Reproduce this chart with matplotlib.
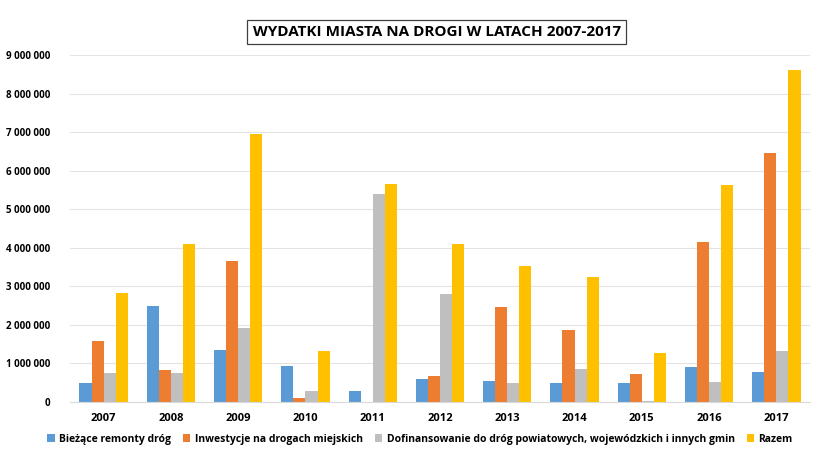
"""Wydatki miasta na drogi 2007-2017 - grouped bar chart."""

import matplotlib

matplotlib.use("Agg")
import matplotlib.pyplot as plt
import numpy as np
from matplotlib.ticker import FuncFormatter


YEARS = ["2007", "2008", "2009", "2010", "2011", "2012", "2013", "2014", "2015", "2016", "2017"]
SERIES_NAMES = [
    "Bieżące remonty dróg",
    "Inwestycje na drogach miejskich",
    "Dofinansowanie do dróg powiatowych, wojewódzkich i innych gmin",
    "Razem",
]
remonty = [490000, 2500000, 1360000, 940000, 280000, 600000, 550000, 500000, 500000, 920000, 790000]
inwestycje = [1590000, 820000, 3660000, 110000, 0, 680000, 2470000, 1880000, 720000, 4160000, 6470000]
dofinansowanie = [760000, 760000, 1910000, 280000, 5390000, 2790000, 480000, 860000, 30000, 530000, 1330000]
razem = [2840000, 4100000, 6960000, 1330000, 5660000, 4110000, 3540000, 3250000, 1270000, 5640000, 8620000]
COLORS = ["#5B9BD5", "#ED7D31", "#BFBFBF", "#FFC000"]

plt.rcParams["font.family"] = "Open Sans"

fig = plt.figure(figsize=(8.4, 4.54), dpi=100)
ax = fig.add_axes([70 / 840, 1 - 402 / 454, 740 / 840, 347 / 454])

x = np.arange(len(YEARS))
width = 0.18
for i, (values, name, color) in enumerate(zip([remonty, inwestycje, dofinansowanie, razem], SERIES_NAMES, COLORS)):
    ax.bar(x + (i - 1.5) * width, values, width, color=color, label=name, zorder=2)

ax.set_xlim(-0.5, len(YEARS) - 0.5)
ax.set_ylim(0, 9000000)
ax.set_yticks(np.arange(0, 9000001, 1000000))
ax.yaxis.set_major_formatter(FuncFormatter(lambda v, _: f"{int(v):,}".replace(",", " ")))
ax.set_xticks(x)
ax.set_xticklabels(YEARS, fontweight="bold", fontsize=8)
for lbl in ax.get_yticklabels():
    lbl.set_fontweight("bold")
    lbl.set_fontsize(7)
ax.tick_params(axis="both", length=0, pad=8)
ax.tick_params(axis="y", pad=14)
ax.grid(axis="y", color="#E3E3E3", linewidth=0.8, zorder=0)
for side in ["top", "right", "left"]:
    ax.spines[side].set_visible(False)
ax.spines["bottom"].set_color("#D9D9D9")

fig.text(0.52, 1 - 32 / 454, "WYDATKI MIASTA NA DROGI W LATACH 2007-2017", ha="center", va="center",
         fontsize=11, fontweight="bold",
         bbox=dict(boxstyle="square,pad=0.35", facecolor="white", edgecolor="#404040", linewidth=0.9))

fig.legend(loc="lower center", bbox_to_anchor=(0.5, 0.0), ncol=4, frameon=False,
           prop={"weight": "bold", "size": 7.5}, handlelength=0.7, handleheight=0.7,
           columnspacing=1.2, handletextpad=0.4)

fig.savefig("out.png", dpi=100)
